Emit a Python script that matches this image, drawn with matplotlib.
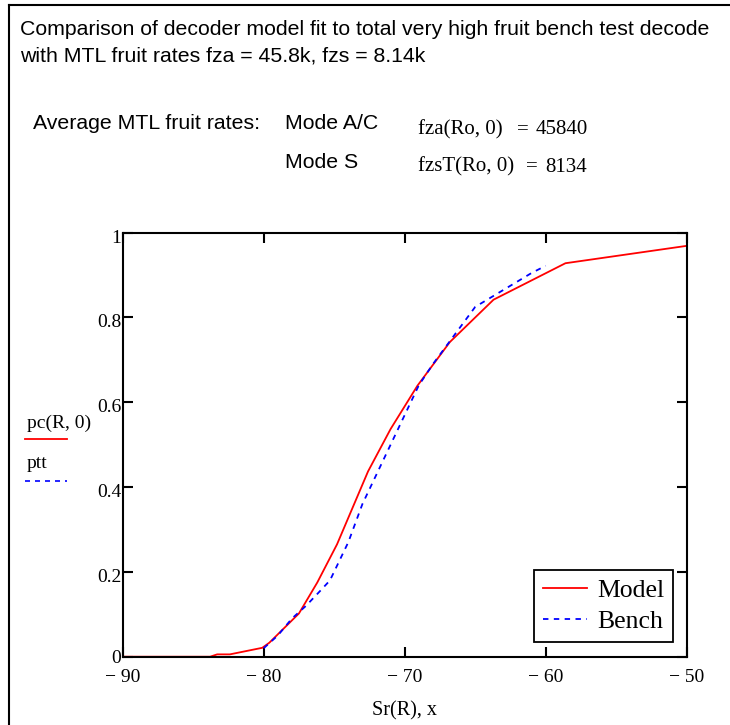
import matplotlib
matplotlib.use("Agg")
import matplotlib.pyplot as plt
from matplotlib.lines import Line2D
from matplotlib.ticker import FixedLocator, FuncFormatter
from matplotlib.transforms import ScaledTranslation

# model curve pc(R,0)
model_x = [-90, -83.8, -83.3, -82.4, -80.1, -79.6, -77.5, -76.2, -74.8, -72.6,
           -71.0, -69.1, -66.8, -63.7, -58.6, -50.0]
model_y = [0.0, 0.0, 0.0055, 0.0055, 0.021, 0.033, 0.102, 0.175, 0.265, 0.437,
           0.537, 0.639, 0.742, 0.842, 0.928, 0.969]

# bench test ptt
bench_x = [-80, -79, -78, -77, -76, -75.3, -74, -73, -72, -71, -70, -69, -68,
           -67, -66, -65, -64, -63, -62, -61, -60]
bench_y = [0.02, 0.05, 0.09, 0.12, 0.155, 0.18, 0.27, 0.36, 0.43, 0.50, 0.57,
           0.64, 0.69, 0.735, 0.78, 0.825, 0.845, 0.865, 0.885, 0.905, 0.922]

xticks = [-90, -80, -70, -60, -50]
yticks = [0, 0.2, 0.4, 0.6, 0.8, 1.0]

title1 = "Comparison of decoder model fit to total very high fruit bench test decode"
title2 = "with MTL fruit rates fza = 45.8k, fzs = 8.14k"

SANS = "Liberation Sans"
SERIF = "Liberation Serif"

fig = plt.figure(figsize=(7.3, 7.25), dpi=100)
W, H = 730, 725

def fx(px):
    return px / W

def fy(py):
    return 1 - py / H

# outer frame (left and top edges visible)
fig.add_artist(Line2D([fx(9), fx(9)], [0, fy(5)], color="black", lw=1.5))
fig.add_artist(Line2D([fx(9), 1], [fy(5), fy(5)], color="black", lw=1.5))

fig.text(fx(20), fy(35), title1, family=SANS, fontsize=15.3, va="baseline")
fig.text(fx(20), fy(62), title2, family=SANS, fontsize=15.3, va="baseline")

fig.text(fx(33), fy(129), "Average MTL fruit rates:", family=SANS, fontsize=15.3, va="baseline")
fig.text(fx(285), fy(129), "Mode A/C", family=SANS, fontsize=15.3, va="baseline")
fig.text(fx(285), fy(167.5), "Mode S", family=SANS, fontsize=15.3, va="baseline")

# MathCAD style result lines: lhs, "=", value
fig.text(fx(418), fy(134), "fza(Ro, 0)", family=SERIF, fontsize=15, va="baseline")
fig.text(fx(517), fy(134), "=", family=SERIF, fontsize=15, va="baseline")
fig.text(fx(536), fy(134), "45840", family=SERIF, fontsize=15, va="baseline")
fig.text(fx(418), fy(171.5), "fzsT(Ro, 0)", family=SERIF, fontsize=15, va="baseline")
fig.text(fx(526), fy(171.5), "=", family=SERIF, fontsize=15, va="baseline")
fig.text(fx(545), fy(171.5), "8134", family=SERIF, fontsize=15, va="baseline")

L, R, T, B = 122.7, 686.7, 232.7, 656.7
ax = fig.add_axes([fx(L), fy(B), (R - L) / W, (B - T) / H])

ax.plot(model_x, model_y, color="red", lw=1.3, label="Model")
ax.plot(bench_x, bench_y, color="blue", lw=1.3, ls=(0, (3, 3)), label="Bench")

ax.set_xlim(-90, -50)
ax.set_ylim(0, 1)
ax.xaxis.set_major_locator(FixedLocator(xticks))
ax.yaxis.set_major_locator(FixedLocator(yticks))
ax.xaxis.set_major_formatter(FuncFormatter(lambda v, p: "\u2212 %d" % abs(v)))
ax.yaxis.set_major_formatter(FuncFormatter(lambda v, p: "0" if v == 0 else ("1" if v == 1 else "%.1f" % v)))
ax.tick_params(direction="in", length=7.2, width=1.5, top=True, right=True,
               labelsize=14)
ax.tick_params(axis="x", pad=9)
ax.tick_params(axis="y", pad=1)
shift = ScaledTranslation(0, -3.5 / 100, fig.dpi_scale_trans)
for lab in ax.get_xticklabels() + ax.get_yticklabels():
    lab.set_family(SERIF)
for lab in ax.get_yticklabels()[1:]:
    lab.set_transform(lab.get_transform() + shift)
for s in ax.spines.values():
    s.set_linewidth(1.5)

leg = ax.legend(loc="lower right", bbox_to_anchor=((673 - L) / (R - L), (B - 642) / (B - T)),
                borderaxespad=0, frameon=True, fancybox=False, edgecolor="black",
                framealpha=1, prop={"family": SERIF, "size": 18.5},
                handlelength=1.7, handletextpad=0.4, borderpad=0.35, labelspacing=0.3)
leg.get_frame().set_linewidth(1.3)

ax.set_xlabel("Sr(R), x", family=SERIF, fontsize=14.5, labelpad=11)

# y-axis label with line samples
fig.text(fx(27), fy(423), "pc(R, 0)", family=SERIF, fontsize=14, va="center")
fig.add_artist(Line2D([fx(25), fx(67)], [fy(439), fy(439)], color="red", lw=1.3))
fig.text(fx(27), fy(463), "ptt", family=SERIF, fontsize=14, va="center")
fig.add_artist(Line2D([fx(25), fx(67)], [fy(481), fy(481)], color="blue", lw=1.2,
                      ls=(0, (3, 3))))

fig.savefig("out.png", dpi=100)
